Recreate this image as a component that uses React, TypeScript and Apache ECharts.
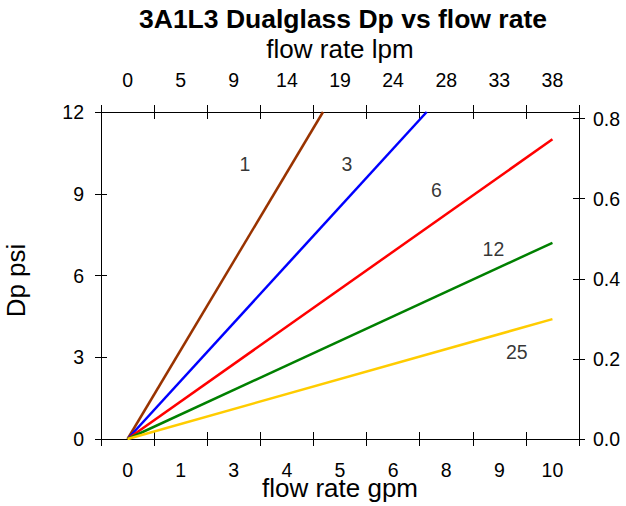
import React, { useEffect, useRef } from "react";
import * as echarts from "echarts";

const gpmLabels = ["0", "1", "3", "4", "5", "6", "8", "9", "10"];
const lpmLabels = ["0", "5", "9", "14", "19", "24", "28", "33", "38"];
const seriesNames = ["1", "3", "6", "12", "25"];
const seriesColors = ["#993300", "#0000FF", "#FF0000", "#008000", "#FFCC00"];
// [gpm, psi] end points of each straight line (all start at origin)
const seriesData: number[][][] = [
  [[0, 0], [4.6, 12]],
  [[0, 0], [7.04, 12]],
  [[0, 0], [10, 11]],
  [[0, 0], [10, 7.2]],
  [[0, 0], [10, 4.4]],
];
// line label anchors in data space [gpm, psi]
const labelAnchors: number[][] = [
  [2.76, 10.1],
  [5.16, 10.1],
  [7.27, 9.13],
  [8.61, 6.99],
  [9.16, 3.19],
];
const psiMax = 12;
const psiPerBar = 14.7;
const gpmMin = -0.625;
const gpmMax = 10.625;

const FONT = "Liberation Sans, Arial, sans-serif";

export default function App() {
  const ref = useRef<HTMLDivElement>(null);
  useEffect(() => {
    if (!ref.current) return;
    const chart = echarts.init(ref.current, undefined, { renderer: "svg" });
    const mkLine = (show: boolean) => ({ show, onZero: false, lineStyle: { color: "#000", width: 1 } });
    const catX = (pos: "bottom" | "top", data: string[], labels: boolean, inside: boolean) => ({
      type: "category",
      position: pos,
      offset: 0,
      data,
      boundaryGap: true,
      axisLine: mkLine(labels),
      axisTick: { show: true, inside, length: 7, alignWithLabel: false, lineStyle: { color: "#000" } },
      axisLabel: {
        show: labels,
        color: "#000",
        fontFamily: FONT,
        fontSize: 19.5,
        margin: pos === "bottom" ? 21 : 22,
      },
      splitLine: { show: false },
      name: labels ? (pos === "bottom" ? "flow rate gpm" : "flow rate lpm") : "",
      nameLocation: "middle",
      nameMoveOverlap: false,
      nameGap: pos === "bottom" ? 36 : 50,
      nameTextStyle: { color: "#000", fontFamily: FONT, fontSize: 26 },
    });
    const valY = (pos: "left" | "right", max: number, interval: number, labels: boolean, inside: boolean) => ({
      type: "value",
      position: pos,
      offset: 0,
      min: 0,
      max,
      interval,
      axisLine: mkLine(labels),
      axisTick: { show: true, inside, length: 6, lineStyle: { color: "#000" } },
      axisLabel: {
        show: labels,
        color: "#000",
        fontFamily: FONT,
        fontSize: 19.5,
        margin: pos === "left" ? 17 : 14,
        showMaxLabel: pos === "left",
        formatter: (v: number) => (pos === "left" ? String(v) : v.toFixed(1)),
      },
      splitLine: { show: false },
      name: labels && pos === "left" ? "Dp psi" : "",
      nameLocation: "middle",
      nameMoveOverlap: false,
      nameGap: 72,
      nameTextStyle: { color: "#000", fontFamily: FONT, fontSize: 26, padding: [0, 10, 0, 0] },
    });

    chart.setOption({
      animation: false,
      backgroundColor: "#fff",
      title: {
        text: "3A1L3 Dualglass Dp vs flow rate",
        left: 134,
        top: 0,
        textStyle: { color: "#000", fontFamily: FONT, fontSize: 26.5, fontWeight: "bold" },
      },
      grid: {
        left: 101,
        right: 47,
        top: 112,
        bottom: 67,
        containLabel: false,
        outerBoundsMode: "none",
      },
      xAxis: [
        catX("bottom", gpmLabels, true, false),
        catX("bottom", gpmLabels, false, true),
        catX("top", lpmLabels, true, false),
        catX("top", lpmLabels, false, true),
        { type: "value", show: false, min: gpmMin, max: gpmMax, axisLine: { onZero: false } },
      ],
      yAxis: [
        valY("left", psiMax, 3, true, false),
        valY("left", psiMax, 3, false, true),
        valY("right", psiMax / psiPerBar, 0.2, true, false),
        valY("right", psiMax / psiPerBar, 0.2, false, true),
      ],
      series: [
        ...seriesNames.map((n, i) => ({
          type: "line",
          name: n,
          xAxisIndex: 4,
          yAxisIndex: 0,
          data: seriesData[i],
          symbol: "none",
          lineStyle: { color: seriesColors[i], width: 2.5 },
        })),
        {
          type: "scatter",
          xAxisIndex: 4,
          yAxisIndex: 0,
          symbolSize: 0,
          itemStyle: { color: "#000" },
          data: labelAnchors.map((a, i) => ({ value: a, name: seriesNames[i] })),
          label: {
            show: true,
            position: "inside",
            formatter: (p: any) => p.name,
            color: "#000",
            textBorderWidth: 0,
            fontFamily: FONT,
            fontSize: 19.5,
          },
        },
      ],
    });
    return () => chart.dispose();
  }, []);
  return (
    <div
      ref={ref}
      style={{ position: "fixed", left: 0, top: 0, width: 626, height: 506, background: "#fff" }}
    />
  );
}
